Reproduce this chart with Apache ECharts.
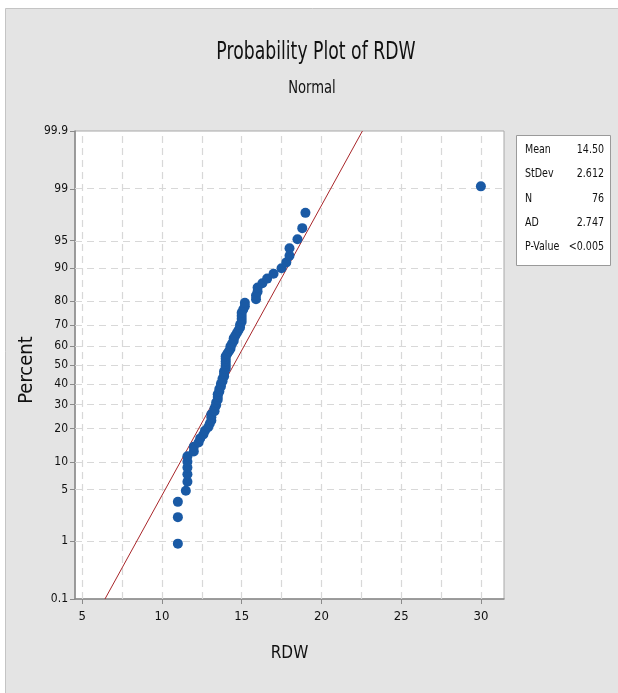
<!DOCTYPE html>
<html>
<head>
<meta charset="utf-8">
<script src="https://cdn.jsdelivr.net/npm/echarts@6/dist/echarts.min.js"></script>
<style>
  html, body { margin: 0; padding: 0; background: #fff; }
  #chart { width: 618px; height: 693px; }
</style>
</head>
<body>
<div id="chart"></div>
<script>
var rdw = [
  11.0, 11.0, 11.0, 11.5, 11.6, 11.6, 11.6, 11.6, 11.6, 12.0,
  12.0, 12.3, 12.4, 12.6, 12.7, 12.9, 13.0, 13.1, 13.1, 13.1,
  13.3, 13.3, 13.4, 13.4, 13.5, 13.5, 13.5, 13.6, 13.6, 13.7,
  13.7, 13.8, 13.8, 13.9, 13.9, 13.9, 14.0, 14.0, 14.0, 14.0,
  14.0, 14.0, 14.1, 14.2, 14.3, 14.3, 14.4, 14.5, 14.5, 14.6,
  14.7, 14.8, 14.9, 14.9, 15.0, 15.0, 15.0, 15.0, 15.1, 15.2,
  15.2, 15.9, 15.9, 16.0, 16.0, 16.3, 16.6, 17.0, 17.5, 17.8,
  18.0, 18.0, 18.5, 18.8, 19.0, 30.0
];

var statLabels = ['Mean', 'StDev', 'N', 'AD', 'P-Value'];
var statValues = ['14.50', '2.612', '76', '2.747', '<0.005'];
var mean = 14.50, stdev = 2.612;

var percentTicks = [0.1, 1, 5, 10, 20, 30, 40, 50, 60, 70, 80, 90, 95, 99, 99.9];
var xTicks = [5, 10, 15, 20, 25, 30];
var xGrid = [5, 7.5, 10, 12.5, 15, 17.5, 20, 22.5, 25, 27.5, 30];

// inverse normal cdf (Acklam)
function qnorm(p) {
  var a = [-3.969683028665376e+01, 2.209460984245205e+02, -2.759285104469687e+02, 1.383577518672690e+02, -3.066479806614716e+01, 2.506628277459239e+00];
  var b = [-5.447609879822406e+01, 1.615858368580409e+02, -1.556989798598866e+02, 6.680131188771972e+01, -1.328068155288572e+01];
  var c = [-7.784894002430293e-03, -3.223964580411365e-01, -2.400758277161838e+00, -2.549671010336025e+00, 4.374664141464968e+00, 2.938163982698783e+00];
  var d = [7.784695709041462e-03, 3.224671290700398e-01, 2.445134137142996e+00, 3.754408661907416e+00];
  var q, r;
  if (p < 0.02425) {
    q = Math.sqrt(-2 * Math.log(p));
    return (((((c[0]*q+c[1])*q+c[2])*q+c[3])*q+c[4])*q+c[5]) / ((((d[0]*q+d[1])*q+d[2])*q+d[3])*q+1);
  } else if (p > 1 - 0.02425) {
    q = Math.sqrt(-2 * Math.log(1 - p));
    return -(((((c[0]*q+c[1])*q+c[2])*q+c[3])*q+c[4])*q+c[5]) / ((((d[0]*q+d[1])*q+d[2])*q+d[3])*q+1);
  }
  q = p - 0.5;
  r = q * q;
  return (((((a[0]*r+a[1])*r+a[2])*r+a[3])*r+a[4])*r+a[5])*q / (((((b[0]*r+b[1])*r+b[2])*r+b[3])*r+b[4])*r+1);
}

var n = rdw.length;
// median rank plotting positions (Minitab default)
var points = rdw.map(function (v, i) {
  return [v, qnorm((i + 1 - 0.3) / (n + 0.4))];
});

var zTicks = percentTicks.map(function (p) { return qnorm(p / 100); });
var zMin = zTicks[0], zMax = zTicks[zTicks.length - 1];

// fitted normal line from the stated mean / stdev
var fitLine = [[mean + stdev * zMin, zMin], [mean + stdev * zMax, zMax]];

var font = "'DejaVu Sans Condensed', 'Liberation Sans Narrow', sans-serif";

function percentLabel(v) {
  var best = 0;
  for (var i = 1; i < zTicks.length; i++) {
    if (Math.abs(zTicks[i] - v) < Math.abs(zTicks[best] - v)) best = i;
  }
  return String(percentTicks[best]);
}

var gridLines = [];
xGrid.forEach(function (v) { gridLines.push({ xAxis: v }); });
zTicks.forEach(function (v, i) {
  if (i > 0 && i < zTicks.length - 1) gridLines.push({ yAxis: v });
});

var chart = echarts.init(document.getElementById('chart'));

var graphics = [
  { type: 'rect', z: -10, shape: { x: 5.5, y: 8.5, width: 640, height: 700 },
    style: { fill: '#e4e4e4', stroke: '#c4c4c4', lineWidth: 1 } },
  { type: 'rect', shape: { x: 516.5, y: 135.5, width: 94, height: 130 },
    style: { fill: '#ffffff', stroke: '#9a9a9a', lineWidth: 1 } },
  { type: 'text', x: 316, y: 53, scaleX: 0.8,
    style: { text: 'Probability Plot of RDW', font: '24px ' + font, fill: '#111', align: 'center', verticalAlign: 'middle' } },
  { type: 'text', x: 312, y: 89, scaleX: 0.86,
    style: { text: 'Normal', font: '17px ' + font, fill: '#111', align: 'center', verticalAlign: 'middle' } },
  { type: 'text', x: 27, y: 370, rotation: Math.PI / 2,
    style: { text: 'Percent', font: '20px ' + font, fill: '#111', align: 'center', verticalAlign: 'middle' } }
];
statLabels.forEach(function (s, i) {
  graphics.push({ type: 'text', x: 525, y: 150 + i * 24.2, scaleX: 0.88,
    style: { text: s, font: '12px ' + font, fill: '#111', verticalAlign: 'middle' } });
  graphics.push({ type: 'text', x: 604, y: 150 + i * 24.2, scaleX: 0.88,
    style: { text: statValues[i], font: '12px ' + font, fill: '#111', align: 'right', verticalAlign: 'middle' } });
});

var option = {
  backgroundColor: '#ffffff',
  animation: false,
  graphic: graphics,
  grid: {
    left: 75, right: 114, top: 131, bottom: 94,
    show: true, backgroundColor: '#ffffff', borderColor: '#a8a8a8', borderWidth: 1
  },
  xAxis: {
    type: 'value',
    min: 4.55,
    max: 31.45,
    name: 'RDW',
    nameLocation: 'middle',
    nameGap: 46,
    nameTextStyle: { fontFamily: font, fontSize: 17, color: '#111' },
    axisLine: { onZero: false, lineStyle: { color: '#8a8a8a', width: 1.5 } },
    axisTick: { show: true, customValues: xTicks, length: 5, lineStyle: { color: '#8a8a8a' } },
    axisLabel: { customValues: xTicks, fontFamily: font, fontSize: 13, color: '#111', margin: 11 },
    splitLine: { show: false }
  },
  yAxis: {
    type: 'value',
    min: zMin,
    max: zMax,
    axisLine: { onZero: false, lineStyle: { color: '#8a8a8a', width: 1.5 } },
    axisTick: { show: true, customValues: zTicks, length: 5, lineStyle: { color: '#8a8a8a' } },
    axisLabel: { customValues: zTicks, fontFamily: font, fontSize: 12, color: '#111', margin: 7,
      formatter: function (v) { return percentLabel(v); } },
    splitLine: { show: false }
  },
  series: [
    {
      type: 'line',
      name: 'grid',
      data: [],
      silent: true,
      z: 1,
      markLine: {
        z: 1,
        silent: true,
        symbol: 'none',
        label: { show: false },
        animation: false,
        lineStyle: { color: '#d8d8d8', type: [7, 5], width: 1.2 },
        data: gridLines
      }
    },
    {
      type: 'line',
      name: 'fit',
      data: fitLine,
      symbol: 'none',
      z: 3,
      lineStyle: { color: '#a8262a', width: 1 }
    },
    {
      type: 'scatter',
      name: 'RDW',
      data: points,
      symbol: 'circle',
      symbolSize: 10,
      z: 6,
      itemStyle: { color: '#1a5aa5', opacity: 1, borderWidth: 0 }
    }
  ]
};

chart.setOption(option);
</script>
</body>
</html>
